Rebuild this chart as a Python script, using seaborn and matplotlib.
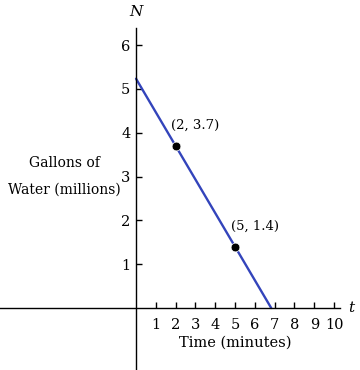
import numpy as np
import pandas as pd
import seaborn as sns
import matplotlib.pyplot as plt

# points
pt_t = [2, 5]
pt_N = [3.7, 1.4]
pt_labels = ["(2, 3.7)", "(5, 1.4)"]

x_ticks = [1, 2, 3, 4, 5, 6, 7, 8, 9, 10]
y_ticks = [1, 2, 3, 4, 5, 6]

# line through the two points, from t=0 down to N=0
slope = (pt_N[1] - pt_N[0]) / (pt_t[1] - pt_t[0])
intercept = pt_N[0] - slope * pt_t[0]
line_t = [0, -intercept / slope]
line_N = [intercept + slope * t for t in line_t]

sns.set_style("white")
plt.rcParams['font.family'] = ['DejaVu Serif']
plt.rcParams['text.color'] = 'black'
plt.rcParams['xtick.color'] = 'black'
plt.rcParams['ytick.color'] = 'black'

fig = plt.figure(figsize=(3.6, 3.7), dpi=100)
ax = fig.add_axes([0, 0, 1, 1])

sns.lineplot(x=line_t, y=line_N, color="#3344bb", linewidth=1.7, ax=ax)
sns.scatterplot(x=pt_t, y=pt_N, color="black", s=40, zorder=5, ax=ax)

for t, n, lab in zip(pt_t, pt_N, pt_labels):
    ax.text(t + 1.0, n + 0.46, lab, ha="center", va="center", fontsize=9.5)

ax.set_xlim(-6.87, 11.31)
ax.set_ylim(-1.415, 7.03)

# axes through origin
ax.spines["left"].set_position(("data", 0))
ax.spines["bottom"].set_position(("data", 0))
ax.spines["right"].set_visible(False)
ax.spines["top"].set_visible(False)
ax.spines["left"].set_bounds(-1.415, 6.4)
ax.spines["bottom"].set_bounds(-6.87, 10.3)
for s in ["left", "bottom"]:
    ax.spines[s].set_color("black")
    ax.spines[s].set_linewidth(1.0)

ax.set_xticks(x_ticks)
ax.set_yticks(y_ticks)
ax.tick_params(axis="x", direction="in", length=4, width=1, pad=7, labelsize=10.5, color="black")
ax.tick_params(axis="y", direction="in", length=4, width=1, pad=4, labelsize=10.5, color="black")
ax.tick_params(axis="x", bottom=True)
ax.tick_params(axis="y", left=True)

ax.text(0, 6.75, "N", ha="center", va="center", fontsize=11, style="italic")
ax.text(10.85, 0, "t", ha="center", va="center", fontsize=11, style="italic")
ax.text(-3.62, 3.0, "Gallons of\nWater (millions)", ha="center", va="center",
        fontsize=10, linespacing=2.2)
ax.text(5.0, -0.78, "Time (minutes)", ha="center", va="center", fontsize=10.5)

fig.savefig("out.png", dpi=100)
